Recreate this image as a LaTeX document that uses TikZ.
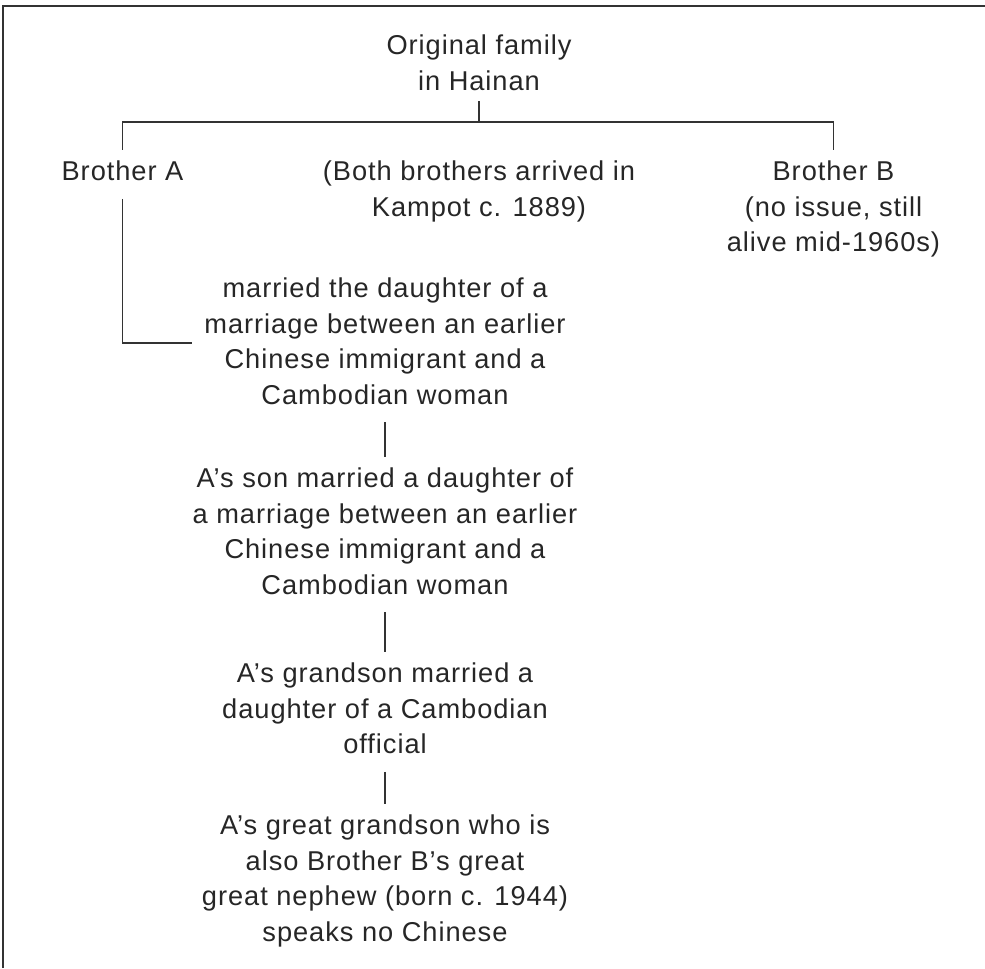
\documentclass[tikz,border=0pt]{standalone}
\usepackage{fontspec}
\setmainfont{Liberation Sans}[LetterSpace=3.5]
\usepackage{tikz}

\begin{document}
\begin{tikzpicture}[
    txt/.style={align=center, anchor=north, inner xsep=4pt, inner ysep=6pt, font=\fontsize{15.5}{20.2}\selectfont, text=black!85},
    ln/.style={line width=0.8pt, draw=black!80}]
  \useasboundingbox (0,0) rectangle (19.7,19.36);
  \draw[line width=1.1pt, black!80] (0.06,0) -- (0.06,19.24) -- (19.7,19.24);
  \node[txt] (orig) at (9.58,18.88) {Original family\\in Hainan};
  \node[txt] (broA) at (2.45,16.36) {Brother A};
  \node[txt] (both) at (9.58,16.36) {(Both brothers arrived in\\Kampot c. 1889)};
  \node[txt] (broB) at (16.67,16.36) {Brother B\\(no issue, still\\alive mid-1960s)};
  \node[txt] (married) at (7.7,14.02) {married the daughter of a\\marriage between an earlier\\Chinese immigrant and a\\Cambodian woman};
  \node[txt] (son) at (7.7,10.22) {A's son married a daughter of\\a marriage between an earlier\\Chinese immigrant and a\\Cambodian woman};
  \node[txt] (grandson) at (7.7,6.32) {A's grandson married a\\daughter of a Cambodian\\official};
  \node[txt] (ggson) at (7.7,3.28) {A's great grandson who is\\also Brother B's great\\great nephew (born c. 1944)\\speaks no Chinese};
  \coordinate (bar) at (9.58,16.92);
  \coordinate (mjoin) at (3.84,12.5);
  \draw[ln] (orig) -- (bar);
  \draw[ln] (broA.north) |- (bar) -| (broB.north);
  \draw[ln, shorten <=4pt] (broA.south) |- (mjoin);
  \draw[ln, shorten <=4pt] (married) -- (son);
  \draw[ln, shorten <=4pt] (son) -- (grandson);
  \draw[ln, shorten <=4pt] (grandson) -- (ggson);
\end{tikzpicture}
\end{document}
